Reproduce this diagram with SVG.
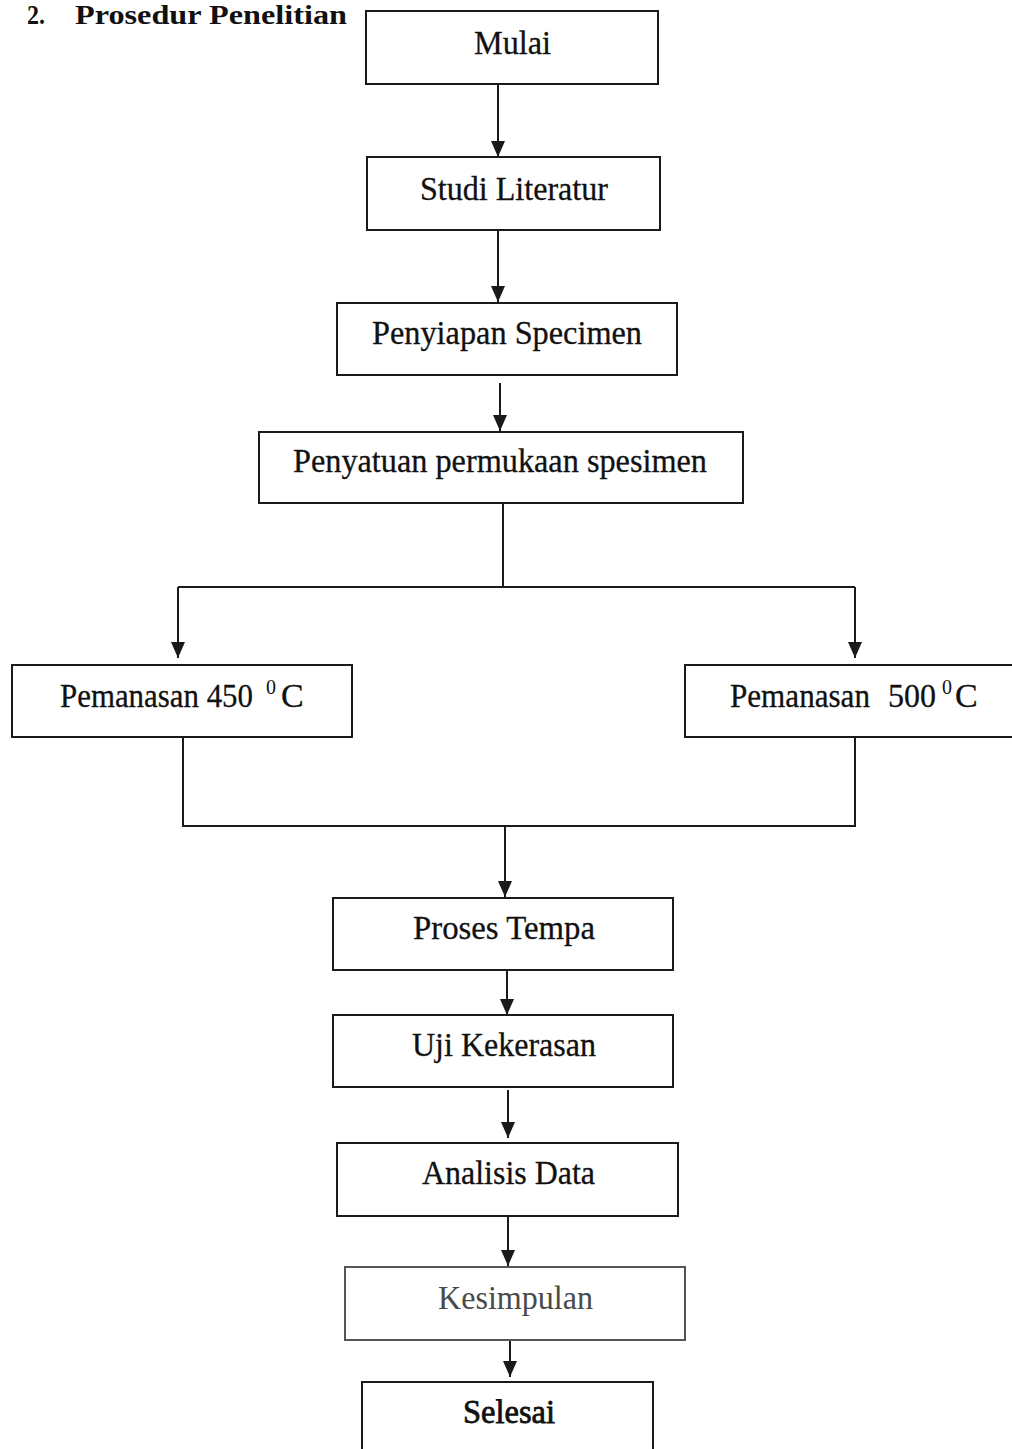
<svg xmlns="http://www.w3.org/2000/svg" width="1012" height="1449" viewBox="0 0 1012 1449">
<style>
.box{fill:#fff;stroke:#1a1a1a;stroke-width:2}
.lbl{font-family:"Liberation Serif","Times New Roman",serif;font-size:34px;fill:#111;stroke:#111;stroke-width:0.3}
.sup{font-size:20px;stroke-width:0}
.ln{fill:none;stroke:#1a1a1a;stroke-width:2}
.title{font-family:"Liberation Serif","Times New Roman",serif;font-size:27px;font-weight:bold;fill:#111}
</style>
<defs>
<marker id="ah" viewBox="0 0 16 14" refX="16" refY="7" markerWidth="16" markerHeight="14" markerUnits="userSpaceOnUse" orient="auto">
<path d="M0,0 L16,7 L0,14 Z" fill="#1a1a1a"/>
</marker>
</defs>
<rect width="1012" height="1449" fill="#fff"/>
<g id="title">
<text class="title" x="27" y="24" textLength="18" lengthAdjust="spacingAndGlyphs">2.</text>
<text class="title" x="75" y="24" textLength="272" lengthAdjust="spacingAndGlyphs">Prosedur Penelitian</text>
</g>
<g id="connectors">
<line class="ln" x1="498" y1="84" x2="498" y2="157" marker-end="url(#ah)"/>
<line class="ln" x1="498" y1="230" x2="498" y2="302" marker-end="url(#ah)"/>
<line class="ln" x1="500" y1="383" x2="500" y2="431" marker-end="url(#ah)"/>
<polyline class="ln" points="503,503 503,587"/>
<polyline class="ln" points="178,587 855,587"/>
<line class="ln" x1="178" y1="587" x2="178" y2="658" marker-end="url(#ah)"/>
<line class="ln" x1="855" y1="587" x2="855" y2="658" marker-end="url(#ah)"/>
<polyline class="ln" points="183,731 183,826 855,826 855,731"/>
<line class="ln" x1="505" y1="826" x2="505" y2="897" marker-end="url(#ah)"/>
<line class="ln" x1="507" y1="970" x2="507" y2="1015" marker-end="url(#ah)"/>
<line class="ln" x1="508" y1="1090" x2="508" y2="1138" marker-end="url(#ah)"/>
<line class="ln" x1="508" y1="1217" x2="508" y2="1266" marker-end="url(#ah)"/>
<line class="ln" x1="510" y1="1340" x2="510" y2="1377" marker-end="url(#ah)"/>
</g>
<g id="mulai">
<rect class="box" x="366" y="11" width="292" height="73"/>
<text class="lbl" x="474" y="54" textLength="77" lengthAdjust="spacingAndGlyphs">Mulai</text>
</g>
<g id="studi">
<rect class="box" x="367" y="157" width="293" height="73"/>
<text class="lbl" x="420" y="200" textLength="188" lengthAdjust="spacingAndGlyphs">Studi Literatur</text>
</g>
<g id="penyiapan">
<rect class="box" x="337" y="303" width="340" height="72"/>
<text class="lbl" x="372" y="344" textLength="270" lengthAdjust="spacingAndGlyphs">Penyiapan Specimen</text>
</g>
<g id="penyatuan">
<rect class="box" x="259" y="432" width="484" height="71"/>
<text class="lbl" x="293" y="472" textLength="414" lengthAdjust="spacingAndGlyphs">Penyatuan permukaan spesimen</text>
</g>
<g id="pemanasan450">
<rect class="box" x="12" y="665" width="340" height="72"/>
<text class="lbl" x="60" y="707"><tspan textLength="193" lengthAdjust="spacingAndGlyphs">Pemanasan 450</tspan><tspan class="sup" x="266" dy="-13">0</tspan><tspan x="281" dy="13">C</tspan></text>
</g>
<g id="pemanasan500">
<rect class="box" x="685" y="665" width="340" height="72"/>
<text class="lbl" x="730" y="707"><tspan textLength="140" lengthAdjust="spacingAndGlyphs">Pemanasan</tspan><tspan x="888" textLength="48" lengthAdjust="spacingAndGlyphs">500</tspan><tspan class="sup" x="942" dy="-13">0</tspan><tspan x="955" dy="13">C</tspan></text>
</g>
<g id="proses">
<rect class="box" x="333" y="898" width="340" height="72"/>
<text class="lbl" x="413" y="939" textLength="182" lengthAdjust="spacingAndGlyphs">Proses Tempa</text>
</g>
<g id="uji">
<rect class="box" x="333" y="1015" width="340" height="72"/>
<text class="lbl" x="412" y="1056" textLength="184" lengthAdjust="spacingAndGlyphs">Uji Kekerasan</text>
</g>
<g id="analisis">
<rect class="box" x="337" y="1143" width="341" height="73"/>
<text class="lbl" x="422" y="1184" textLength="173" lengthAdjust="spacingAndGlyphs">Analisis Data</text>
</g>
<g id="kesimpulan">
<rect class="box" x="345" y="1267" width="340" height="73" style="stroke:#555"/>
<text class="lbl" x="438" y="1309" textLength="155" lengthAdjust="spacingAndGlyphs" style="fill:#4a4a4a;stroke:none">Kesimpulan</text>
</g>
<g id="selesai">
<rect class="box" x="362" y="1382" width="291" height="80"/>
<text class="lbl" x="463" y="1423" textLength="92" lengthAdjust="spacingAndGlyphs" style="stroke-width:0.8">Selesai</text>
</g>
</svg>
